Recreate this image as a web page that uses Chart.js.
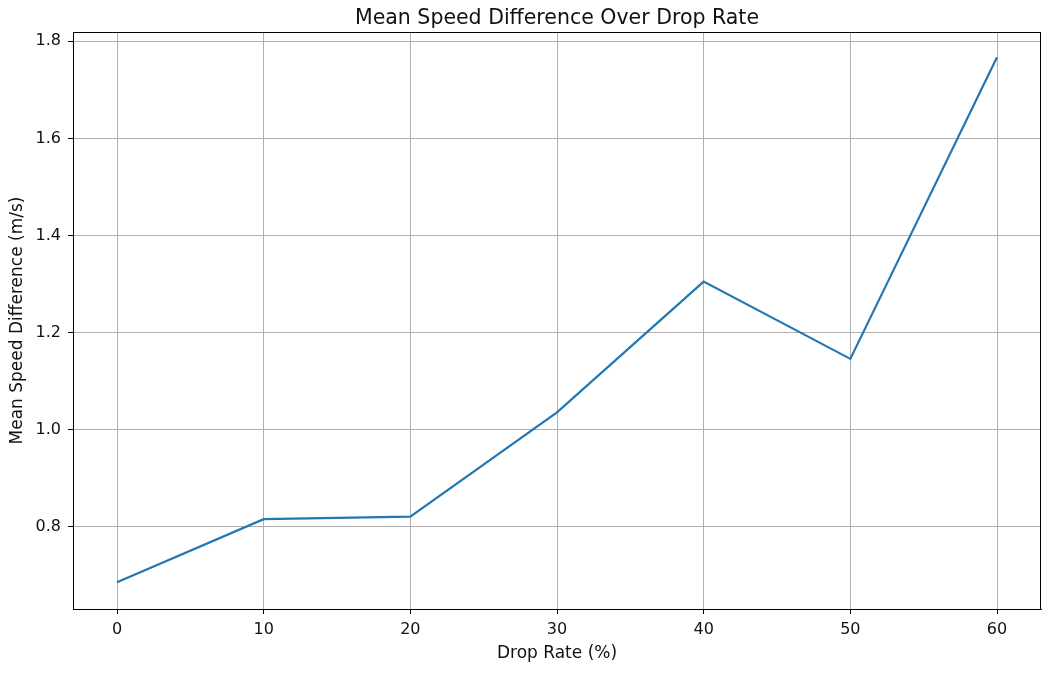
<!DOCTYPE html>
<html lang="en">
<head>
    <meta charset="UTF-8">
    <title>Mean Speed Difference Over Drop Rate</title>
    <script src="https://cdn.jsdelivr.net/npm/chart.js"></script>
    <style>
        body {
            margin: 0;
            background-color: #ffffff;
        }
        #wrap {
            width: 1052px;
            height: 692px;
        }
    </style>
</head>
<body>
    <div id="wrap">
        <canvas id="lineChart" width="1052" height="692"></canvas>
    </div>
    <script>
        // values
        const dropRates = [0, 10, 20, 30, 40, 50, 60];
        const meanSpeedDiff = [0.686, 0.816, 0.821, 1.036, 1.305, 1.146, 1.767];
        const xTicks = [0, 10, 20, 30, 40, 50, 60];
        const yTicks = [0.8, 1.0, 1.2, 1.4, 1.6, 1.8];

        const fontFamily = "'DejaVu Sans', sans-serif";

        // matplotlib-like frame and title, centred on the plot area
        const frameAndTitle = {
            id: 'frameAndTitle',
            afterDraw(chart) {
                const { ctx, chartArea } = chart;
                ctx.save();
                ctx.strokeStyle = '#000';
                ctx.lineWidth = 1;
                ctx.strokeRect(chartArea.left + 0.5, chartArea.top + 0.5,
                    chartArea.right - chartArea.left - 1, chartArea.bottom - chartArea.top);
                ctx.fillStyle = '#111';
                ctx.font = '20.5px ' + fontFamily;
                ctx.textAlign = 'center';
                ctx.textBaseline = 'alphabetic';
                ctx.fillText('Mean Speed Difference Over Drop Rate',
                    (chartArea.left + chartArea.right) / 2, chartArea.top - 8);
                ctx.restore();
            }
        };

        new Chart(document.getElementById('lineChart'), {
            type: 'line',
            data: {
                datasets: [{
                    data: dropRates.map((x, i) => ({ x: x, y: meanSpeedDiff[i] })),
                    borderColor: '#1f77b4',
                    borderWidth: 2.2,
                    pointRadius: 0,
                    tension: 0,
                    fill: false
                }]
            },
            options: {
                responsive: false,
                animation: false,
                layout: {
                    padding: { top: 32, right: 11, bottom: 0, left: 0 }
                },
                plugins: {
                    legend: { display: false },
                    title: { display: false },
                    tooltip: { enabled: false }
                },
                scales: {
                    x: {
                        type: 'linear',
                        min: -3,
                        max: 63,
                        afterBuildTicks: s => { s.ticks = xTicks.map(v => ({ value: v })); },
                        afterFit: s => { s.height = 83; },
                        grid: {
                            color: '#b0b0b0',
                            lineWidth: 1,
                            tickColor: '#000',
                            tickLength: 5
                        },
                        border: { color: '#000', width: 1 },
                        ticks: {
                            color: '#111',
                            padding: 6,
                            font: { family: fontFamily, size: 16 }
                        },
                        title: {
                            display: true,
                            text: 'Drop Rate (%)',
                            color: '#111',
                            font: { family: fontFamily, size: 17 },
                            padding: { top: 0, bottom: 28 }
                        }
                    },
                    y: {
                        type: 'linear',
                        min: 0.631,
                        max: 1.819,
                        afterBuildTicks: s => { s.ticks = yTicks.map(v => ({ value: v })); },
                        afterFit: s => { s.width = 73; },
                        grid: {
                            color: '#b0b0b0',
                            lineWidth: 1,
                            tickColor: '#000',
                            tickLength: 5
                        },
                        border: { color: '#000', width: 1 },
                        ticks: {
                            color: '#111',
                            padding: 7,
                            font: { family: fontFamily, size: 16 },
                            callback: v => v.toFixed(1)
                        },
                        title: {
                            display: true,
                            text: 'Mean Speed Difference (m/s)',
                            color: '#111',
                            font: { family: fontFamily, size: 17 },
                            padding: { top: 7, bottom: 0 }
                        }
                    }
                }
            },
            plugins: [frameAndTitle]
        });
    </script>
</body>
</html>
